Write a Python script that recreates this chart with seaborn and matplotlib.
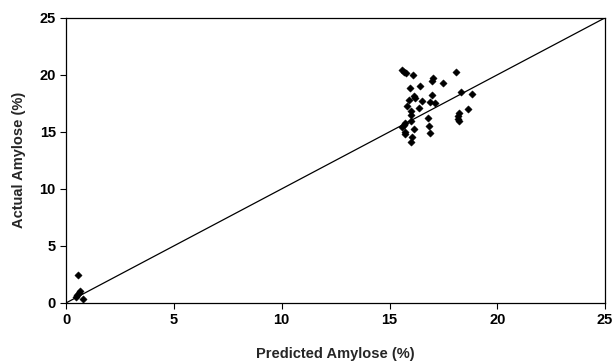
import matplotlib
matplotlib.use("Agg")
import matplotlib.pyplot as plt
import seaborn as sns
import pandas as pd

predicted = [15.60, 15.69, 15.76, 16.10, 18.08, 17.00, 16.96, 17.48, 16.43, 15.96,
             16.12, 16.19, 16.99, 15.89, 16.50, 16.87, 17.10, 18.34, 18.83, 15.83,
             16.38, 15.99, 16.01, 18.66, 18.23, 18.16, 18.19, 18.23, 16.79, 16.01,
             15.74, 15.65, 15.56, 16.14, 16.83, 15.71, 15.74, 16.87, 16.05, 15.99,
             0.56, 0.58, 0.51, 0.45, 0.80, 0.64]
actual = [20.43, 20.28, 20.16, 19.96, 20.28, 19.72, 19.43, 19.26, 19.02, 18.87,
          18.17, 18.00, 18.23, 17.82, 17.70, 17.58, 17.50, 18.52, 18.35, 17.29,
          17.06, 16.85, 16.47, 16.97, 16.65, 16.35, 16.12, 15.91, 16.21, 15.97,
          15.77, 15.62, 15.45, 15.27, 15.47, 14.95, 14.83, 14.92, 14.51, 14.13,
          2.46, 0.88, 0.70, 0.53, 0.35, 1.00]
line_x = [0, 25]
line_y = [0, 25]
ticks = [0, 5, 10, 15, 20, 25]

sns.set_theme(style="ticks")
plt.rcParams['font.family'] = ['Liberation Sans', 'DejaVu Sans']

df = pd.DataFrame({"Predicted": predicted, "Actual": actual})
fig = plt.figure(figsize=(6.13, 3.64), dpi=100)
ax = fig.add_axes([0.108, 0.168, 0.879, 0.783])

sns.lineplot(x=line_x, y=line_y, ax=ax, color="black", linewidth=0.9)
sns.scatterplot(data=df, x="Predicted", y="Actual", ax=ax, marker="D",
                color="black", s=14, edgecolor="black", linewidth=0.3, zorder=3)

ax.set_xlim(0, 25)
ax.set_ylim(0, 25)
ax.set_xticks(ticks)
ax.set_yticks(ticks)
ax.set_xticklabels([str(t) for t in ticks], fontweight="bold", fontsize=10.5)
ax.set_yticklabels([str(t) for t in ticks], fontweight="bold", fontsize=10.5)
ax.tick_params(direction="out", length=4, width=0.8, colors="black")
ax.set_xlabel("Predicted Amylose (%)", fontweight="bold", fontsize=10.5, labelpad=14)
ax.set_ylabel("Actual Amylose (%)", fontweight="bold", fontsize=10.5, labelpad=10)
for s in ax.spines.values():
    s.set_visible(True)
    s.set_color("black")
    s.set_linewidth(0.9)

fig.savefig("out.png", dpi=100)
